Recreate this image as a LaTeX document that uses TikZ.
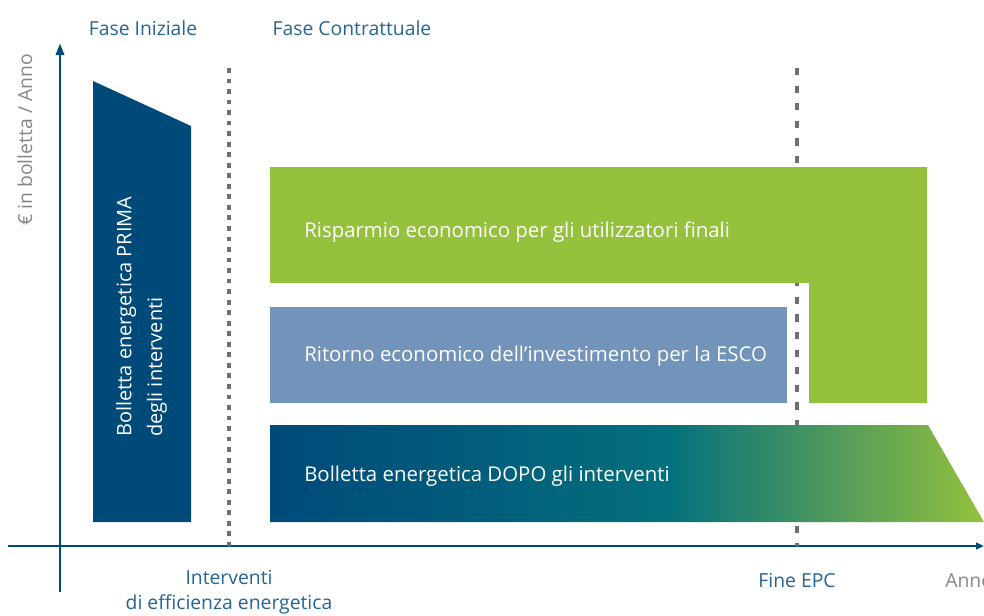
\documentclass[tikz,border=0pt]{standalone}
\usepackage{fontspec}
\setmainfont{Open Sans}
\usetikzlibrary{arrows.meta}

\definecolor{navy}{RGB}{0,74,122}
\definecolor{leaf}{RGB}{149,193,61}
\definecolor{slate}{RGB}{114,147,186}
\definecolor{tealmid}{RGB}{4,112,125}
\definecolor{labelblue}{RGB}{36,100,150}
\definecolor{labelgray}{RGB}{135,135,135}
\definecolor{dashgray}{RGB}{112,112,112}

% shading for the "after" bar: navy -> teal -> green
\pgfdeclarehorizontalshading{afterbar}{100bp}{%
  color(0bp)=(navy); color(25bp)=(navy); color(38bp)=(navy!55!tealmid);
  color(53bp)=(tealmid); color(75bp)=(leaf); color(100bp)=(leaf)}

\tikzset{
  axisline/.style={navy, line width=2.2pt},
  phaseline/.style={dashgray, line width=2.3pt},
  phaselabel/.style={labelblue, font=\fontsize{14.5}{17}\selectfont, inner sep=0pt},
  axislabel/.style={labelgray, font=\fontsize{14.5}{17}\selectfont, inner sep=0pt},
  barlabel/.style={white, font=\fontsize{15.3}{18}\selectfont, inner sep=0pt, anchor=base west},
}

\begin{document}
\begin{tikzpicture}[x=0.75pt, y=-0.75pt]
  \useasboundingbox (0,0) rectangle (984,615);
  \clip (0,0) rectangle (984,615);

  % axes
  \coordinate (xstart) at (8,546);
  \coordinate (xend) at (984,546);
  \coordinate (ystart) at (60,592);
  \coordinate (yend) at (60,43);
  \draw[axisline, -{Triangle[length=9pt, width=6pt]}] (ystart) -- (yend);
  \draw[axisline, -{Triangle[length=6pt, width=5pt]}] (xstart) -- (xend);

  % phase separators
  \coordinate (sepA top) at (229,68);
  \coordinate (sepA bot) at (229,546);
  \coordinate (sepB top) at (797,68);
  \coordinate (sepB bot) at (797,546);
  \draw[phaseline, dash pattern=on 3.6pt off 4.3pt] (sepA top) -- (sepA bot);
  \draw[phaseline, dash pattern=on 5.4pt off 7.8pt] (sepB top) -- (sepB bot);

  % bill before the works
  \fill[navy] (93,81) -- (191,126) -- (191,522) -- (93,522) -- cycle;

  % savings for the end users
  \fill[leaf] (270,167) -- (927,167) -- (927,403) -- (809,403)
              -- (809,283) -- (270,283) -- cycle;

  % ESCO return
  \fill[slate] (270,307) rectangle (787,403);

  % bill after the works
  \shade[shading=afterbar] (270,425) -- (928,425) -- (984,522) -- (270,522) -- cycle;

  % labels
  \node[phaselabel, anchor=base] (initial) at (143,35) {Fase Iniziale};
  \node[phaselabel, anchor=base] (contract) at (352,35) {Fase Contrattuale};
  \node[axislabel, rotate=90, anchor=base] (yaxis) at (32,140) {€ in bolletta / Anno};
  \node[axislabel, anchor=base west] (xaxis) at (945,587) {Anno};
  \node[phaselabel, anchor=base] (works) at (229,584) {Interventi};
  \node[phaselabel, anchor=base] (works2) at (229,609) {di efficienza energetica};
  \node[phaselabel, anchor=base] (epc) at (797,587) {Fine EPC};

  \node[white, font=\fontsize{15}{23}\selectfont, inner sep=0pt, rotate=90,
        anchor=west, align=left] (before) at (141.5,437)
       {Bolletta energetica PRIMA\\degli interventi};
  \node[barlabel] (saving) at (304,237) {Risparmio economico per gli utilizzatori finali};
  \node[barlabel] (esco) at (304,361) {Ritorno economico dell’investimento per la ESCO};
  \node[barlabel] (after) at (304,481) {Bolletta energetica DOPO gli interventi};
\end{tikzpicture}
\end{document}
